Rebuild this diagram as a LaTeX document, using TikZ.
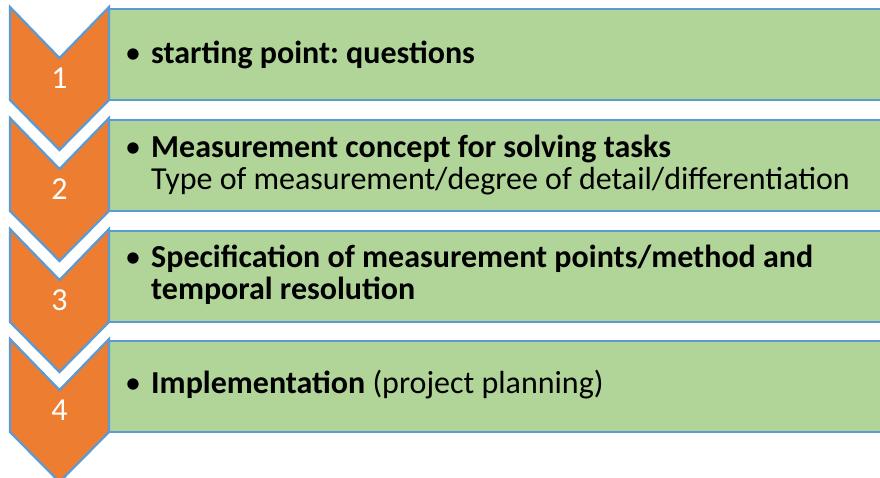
\documentclass[tikz,border=0pt]{standalone}
\usepackage{fontspec}
\setmainfont{Carlito}
\frenchspacing
\definecolor{stepfill}{HTML}{ED7D31}
\definecolor{boxfill}{HTML}{B1D498}
\definecolor{edge}{HTML}{5B9BD5}
\begin{document}
\begin{tikzpicture}[x=1pt,y=-1pt,
  chevron/.style={fill=stepfill,draw=edge,line width=2.2pt,line join=miter},
  panel/.style={fill=boxfill,draw=edge,line width=2.6pt},
  num/.style={text=white,font=\fontsize{32}{36}\selectfont,inner sep=0pt,anchor=base},
  bul/.style={font=\fontsize{32}{32}\selectfont,inner sep=0pt,anchor=base},
  body/.style={font=\fontsize{32}{32}\selectfont\frenchspacing,inner sep=0pt,anchor=base west}]
\useasboundingbox (0,0) rectangle (880,477);
\fill[white] (0,0) rectangle (880,477);
% one step: green panel plus chevron with its number
\foreach \t/\n in {7/1,118/2,229/3,339/4}{
  \draw[panel] (109,\t+2) rectangle (884,\t+93);
  \draw[chevron] (10,\t) -- (59.5,\t+51) -- (109,\t) -- (109,\t+93)
     -- (59.5,\t+143) -- (10,\t+93) -- cycle;
  \node[num] (n\n) at (59.5,\t+81) {\n};
}
\foreach \y/\n in {63/1,157/2,267/3,393/4}
  \node[bul] (b\n) at (133,\y) {•};
\node[body] (t1)  at (151,63)  {\textbf{starting point: questions}};
\node[body] (t2a) at (151,157) {\textbf{Measurement concept for solving tasks}};
\node[body] (t2b) at (151,189) {Type of measurement/degree of detail/differentiation};
\node[body] (t3a) at (151,267) {\textbf{Specification of measurement points/method and}};
\node[body] (t3b) at (151,299) {\textbf{temporal resolution}};
\node[body] (t4)  at (151,393) {\textbf{Implementation} (project planning)};
\end{tikzpicture}
\end{document}
